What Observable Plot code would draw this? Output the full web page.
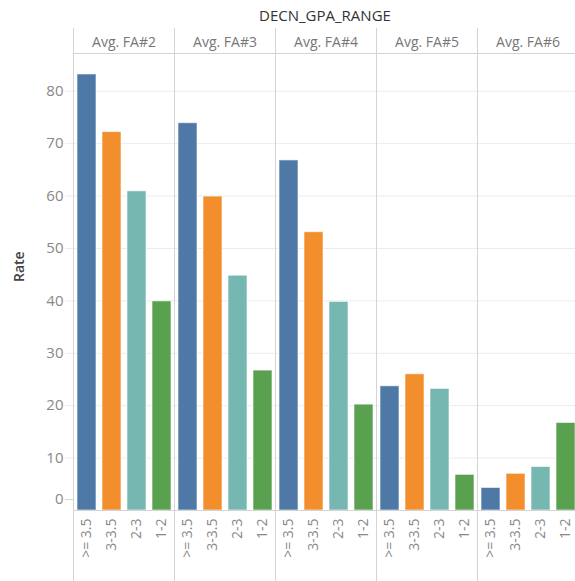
<!DOCTYPE html>
<html>
<head>
<meta charset="utf-8">
<script src="https://cdn.jsdelivr.net/npm/d3@7"></script>
<script src="https://cdn.jsdelivr.net/npm/@observablehq/plot@0.6"></script>
<style>
  html, body { margin: 0; padding: 0; background: #fff; overflow: hidden; }
  #title { position: absolute; top: 0; left: 0; height: 28px; width: 579px; font-family: "Open Sans", sans-serif; font-size: 15px; color: #333;
           box-sizing: border-box; padding-left: 71px; text-align: center; line-height: 30px; }
  #chart { position: absolute; top: 28px; left: 0; width: 579px; }
  #chart svg { display: block; max-width: none !important; }
</style>
</head>
<body>
<div id="title">DECN_GPA_RANGE</div>
<div id="chart"></div>
<script>
const facets = ["Avg. FA#2", "Avg. FA#3", "Avg. FA#4", "Avg. FA#5", "Avg. FA#6"];
const categories = [">= 3.5", "3-3.5", "2-3", "1-2"];
const colors = ["#4e79a7", "#f28e2b", "#76b7b2", "#59a14f"];
const values = [
  [83.2, 72.2, 60.9, 39.9],
  [73.9, 59.9, 44.8, 26.7],
  [66.8, 53.1, 39.8, 20.2],
  [23.7, 26.0, 23.2, 6.8],
  [4.3, 7.0, 8.3, 16.7]
];
const yTicks = [10, 20, 30, 40, 50, 60, 70, 80];

const data = [];
facets.forEach((f, i) => categories.forEach((c, j) => data.push({facet: f, cat: c, rate: values[i][j]})));

const font = "Open Sans, sans-serif";
const plot = Plot.plot({
  width: 579,
  height: 553,
  marginTop: 25,
  marginBottom: 71,
  marginLeft: 71,
  marginRight: 0,
  style: {fontFamily: font, background: "#fff"},
  fx: {domain: facets, padding: 0, label: null},
  x: {domain: categories, paddingInner: 0.25, paddingOuter: 0.12, label: null},
  y: {domain: [0, 87.2], label: null},
  color: {domain: categories, range: colors},
  marks: [
    Plot.gridY(yTicks, {stroke: "#ececec", strokeOpacity: 1}),
    Plot.axisFx({anchor: "top", tickSize: 0, tickPadding: 7, fontSize: 14, fill: "#777", label: null, style: "letter-spacing:0.4px"}),
    Plot.axisY(yTicks, {tickSize: 8, stroke: "#ececec", strokeOpacity: 1, tickPadding: 2, fontSize: 15, fill: "#888", label: null}),
    Plot.axisY([0], {tickSize: 8, stroke: "#d4d4d4", strokeOpacity: 1, tickPadding: 2, fontSize: 15, fill: "#888", dy: -11, label: null}),
    Plot.text(["Rate"], {frameAnchor: "left", dx: -54, rotate: -90, fontSize: 14, fontWeight: 600, fill: "#444", facet: "super"}),
    Plot.barY(data, {fx: "facet", x: "cat", y: "rate", fill: "cat", stroke: "#fff", strokeOpacity: 0.6, strokeWidth: 1}),
    Plot.frame({anchor: "left", stroke: "#d4d4d4", strokeOpacity: 1, insetTop: -25, insetBottom: -71}),
    Plot.frame({anchor: "top", stroke: "#d4d4d4", strokeOpacity: 1}),
    Plot.ruleY([0], {stroke: "#d4d4d4"}),
    Plot.axisX({anchor: "bottom", tickRotate: -90, tickSize: 0, tickPadding: 8, fontSize: 14, fill: "#888", label: null})
  ]
});
document.getElementById("chart").appendChild(plot);
</script>
</body>
</html>
